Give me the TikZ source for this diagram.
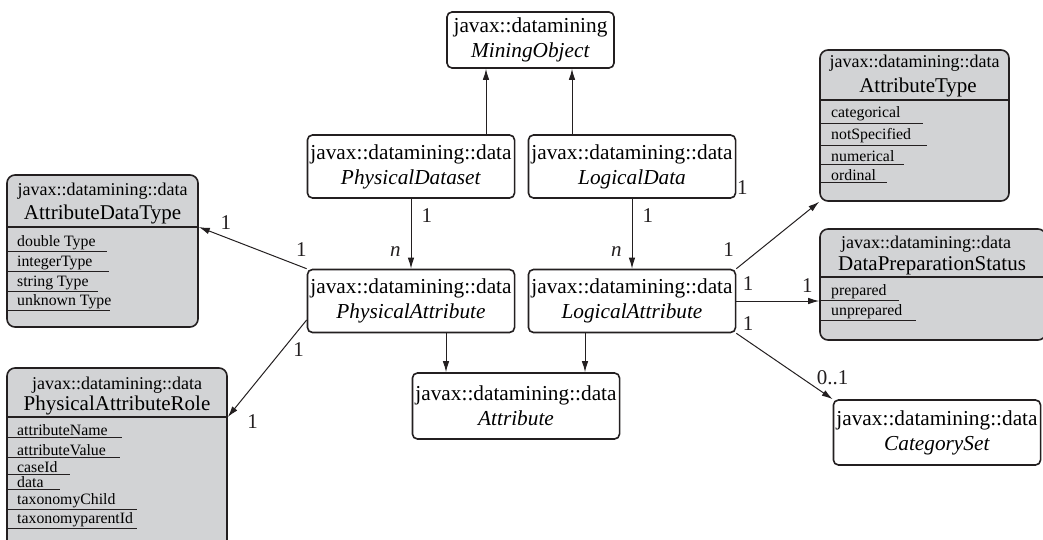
\documentclass[tikz,border=0pt]{standalone}
\usepackage{fontspec}
\setmainfont{Liberation Serif}
\usetikzlibrary{arrows.meta, positioning, calc}
\definecolor{umlInk}{RGB}{35,31,32}
\definecolor{umlGrey}{RGB}{210,211,213}

\begin{document}
\begin{tikzpicture}[x=1pt, y=-1pt,
    cls/.style={rectangle, draw=umlInk, line width=1.6pt, fill=white, rounded corners=5pt,
        align=center, inner xsep=3pt, minimum height=63pt, font=\fontsize{21.3}{25}\selectfont},
    enumbox/.style={rectangle, draw=umlInk, line width=1.6pt, fill=umlGrey, rounded corners=8pt},
    pkg/.style={anchor=base, inner sep=0pt, font=\fontsize{18}{20}\selectfont},
    ename/.style={anchor=base, inner sep=0pt, font=\fontsize{21}{24}\selectfont},
    lit/.style={anchor=base west, inner sep=0pt, font=\fontsize{15.8}{18}\selectfont},
    sepline/.style={line width=1.2pt, umlInk},
    uline/.style={line width=1pt, umlInk},
    arrow/.style={-{Latex[length=11pt, width=6.5pt]}, line width=1pt, umlInk},
    mult/.style={font=\fontsize{21}{24}\selectfont, inner sep=2pt, text=umlInk}
]
\path[use as bounding box] (0,0) rectangle (1043,540);
\clip (0,0) rectangle (1043,540);

% classes
\node[cls, minimum height=56pt, minimum width=167pt] (mining) at (530.5,40)
    {javax::datamining\\\textit{MiningObject}};
\node[cls] (pdataset) at (411,166.5)
    {javax::datamining::data\\\textit{PhysicalDataset}};
\node[cls] (ldata) at (632,166.5)
    {javax::datamining::data\\\textit{LogicalData}};
\node[cls] (pattr) at (411,301)
    {javax::datamining::data\\\textit{PhysicalAttribute}};
\node[cls] (lattr) at (632,301)
    {javax::datamining::data\\\textit{LogicalAttribute}};
\node[cls, minimum height=66pt] (attr) at (516,406)
    {javax::datamining::data\\\textit{Attribute}};
\node[cls, minimum height=65pt] (catset) at (937,432.5)
    {javax::datamining::data\\\textit{CategorySet}};

% enumerations
\node[enumbox, minimum width=191pt, minimum height=152pt] (adt) at (102.5,251) {};
\node[pkg] (adt-pkg) at (102.5,196) {javax::datamining::data};
\node[ename] (adt-name) at (102.5,219) {AttributeDataType};
\coordinate (adt-sep) at (7,227);
\draw[sepline] (adt-sep) -- (adt-sep -| adt.east);
\foreach \yy/\ex/\txt [count=\i] in {246/107/double Type, 266/109/integerType,
        286/98/string Type, 305/110/unknown Type}{
    \node[lit] (adt-\i) at (17,\yy) {\txt};
    \coordinate (adt-e\i) at (\ex,\yy);
    \draw[uline] ($(adt-\i.south -| adt-sep)+(0,2)$) -- ($(adt-\i.south -| adt-e\i)+(0,2)$);
}

\node[enumbox, minimum width=220pt, minimum height=184pt] (par) at (117,460) {};
\node[pkg] (par-pkg) at (117,389) {javax::datamining::data};
\node[ename] (par-name) at (117,410) {PhysicalAttributeRole};
\coordinate (par-sep) at (7,417);
\draw[sepline] (par-sep) -- (par-sep -| par.east);
\foreach \yy/\ex/\txt [count=\i] in {435/122/attributeName, 455/120/attributeValue,
        472/70/caseId, 487/60/data, 504/137/taxonomyChild, 523/137/taxonomyparentId}{
    \node[lit] (par-\i) at (17,\yy) {\txt};
    \coordinate (par-e\i) at (\ex,\yy);
    \draw[uline] ($(par-\i.south -| par-sep)+(0,2)$) -- ($(par-\i.south -| par-e\i)+(0,2)$);
}

\node[enumbox, minimum width=189pt, minimum height=151pt] (at) at (914.5,125.5) {};
\node[pkg] (at-pkg) at (914.5,68) {javax::datamining::data};
\node[ename] (at-name) at (918,93) {AttributeType};
\coordinate (at-sep) at (820,100);
\draw[sepline] (at-sep) -- (at-sep -| at.east);
\foreach \yy/\ex/\txt [count=\i] in {118/923/categorical, 140/927/notSpecified,
        162/904/numerical, 180/887/ordinal}{
    \node[lit] (at-\i) at (831,\yy) {\txt};
    \coordinate (at-e\i) at (\ex,\yy);
    \draw[uline] ($(at-\i.south -| at-sep)+(0,2)$) -- ($(at-\i.south -| at-e\i)+(0,2)$);
}

\node[enumbox, minimum width=226pt, minimum height=111pt] (dps) at (933,284.5) {};
\node[pkg] (dps-pkg) at (926,248) {javax::datamining::data};
\node[ename] (dps-name) at (932,270) {DataPreparationStatus};
\coordinate (dps-sep) at (820,277);
\draw[sepline] (dps-sep) -- (dps-sep -| dps.east);
\foreach \yy/\ex/\txt [count=\i] in {295/899/prepared, 315/916/unprepared}{
    \node[lit] (dps-\i) at (831,\yy) {\txt};
    \coordinate (dps-e\i) at (\ex,\yy);
    \draw[uline] ($(dps-\i.south -| dps-sep)+(0,2)$) -- ($(dps-\i.south -| dps-e\i)+(0,2)$);
}

% generalisations
\coordinate (pd-up) at ([xshift=75pt]pdataset.north);
\draw[arrow] (pd-up) -- (pd-up |- mining.south);
\coordinate (ld-up) at ([xshift=-60pt]ldata.north);
\draw[arrow] (ld-up) -- (ld-up |- mining.south);
\coordinate (pa-dn) at ([xshift=35pt]pattr.south);
\draw[arrow] (pa-dn) -- (pa-dn |- attr.north);
\coordinate (la-dn) at ([xshift=-47pt]lattr.south);
\draw[arrow] (la-dn) -- (la-dn |- attr.north);

% associations
\draw[arrow] (pdataset) -- (pattr)
    node[mult, pos=0.24, right=8pt] {1}
    node[mult, pos=0.75, left=8pt] {\textit{n}};
\draw[arrow] (ldata) -- (lattr)
    node[mult, pos=0.24, right=8pt] {1}
    node[mult, pos=0.75, left=8pt] {\textit{n}};
\draw[arrow] (pattr.north west) -- (adt-sep -| adt.east)
    node[mult, pos=0.05, above=8pt] {1}
    node[mult, pos=0.75, above=5pt] {1};
\draw[arrow] ([yshift=-19pt]pattr.west) -- (par-sep -| par.east)
    node[mult, pos=0.3, right=8pt] {1}
    node[mult, pos=1, right=17pt, yshift=-5pt] {1};
\draw[arrow] (lattr.north east) -- (at.south west)
    node[mult, pos=0, above left=10pt and 0pt] {1}
    node[mult, pos=1, left=69pt, yshift=14pt] {1};
\draw[arrow] (lattr.east) -- (lattr.east -| dps.west)
    node[mult, pos=0, above right=8pt and 4pt] {1}
    node[mult, pos=1, above left=6pt and 4pt] {1};
\draw[arrow] (lattr.south east) -- (catset.north west)
    node[mult, pos=0, above right=0pt and 4pt] {1}
    node[mult, pos=1, above=12pt] {0..1};
\end{tikzpicture}
\end{document}
